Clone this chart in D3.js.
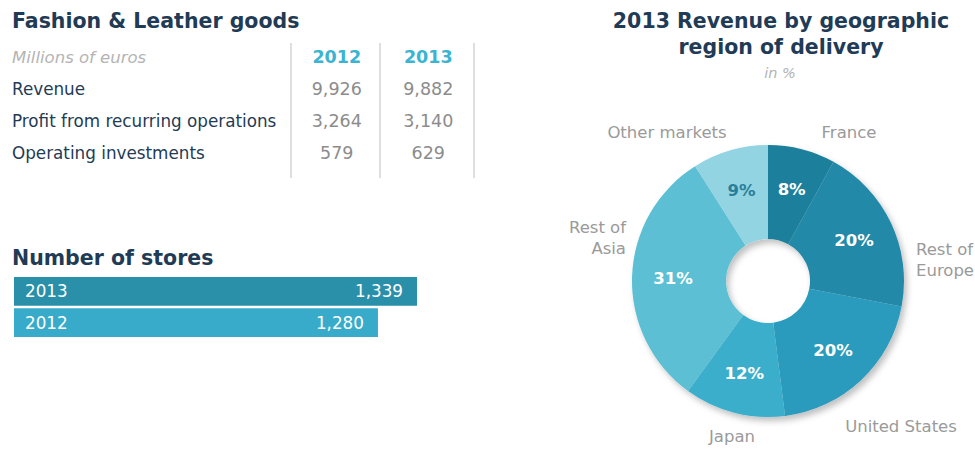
<!DOCTYPE html>
<html><head><meta charset="utf-8">
<script src="https://cdn.jsdelivr.net/npm/d3@7"></script>
<style>body{margin:0;background:#fff}svg{display:block}text{font-family:"DejaVu Sans",Verdana,sans-serif}</style>
</head><body>
<svg id="c" width="975" height="462"></svg>
<script>
// ---- data ----
const tableYears = ["2012", "2013"];
const tableRows = ["Revenue", "Profit from recurring operations", "Operating investments"];
const tableValues2012 = [9926, 3264, 579];
const tableValues2013 = [9882, 3140, 629];
const storeYears = ["2013", "2012"];
const storeCounts = [1339, 1280];
const regions = ["France", "Rest of Europe", "United States", "Japan", "Rest of Asia", "Other markets"];
const regionShares = [8, 20, 20, 12, 31, 9];

const svg = d3.select("#c");
const navy = "#1f3b56";
const fmt = d3.format(",");
const titleSize = 20.5;

// ---- left: table ----
svg.append("text").attr("x", 12).attr("y", 28).attr("font-size", titleSize).attr("font-weight", "bold")
  .attr("fill", navy).text("Fashion & Leather goods");

const rowY = d3.scalePoint().domain(["hdr", ...tableRows]).range([63, 159]);
const colX = d3.scaleBand().domain(tableYears).range([291, 474]);

svg.append("text").attr("x", 12).attr("y", rowY("hdr")).attr("font-size", 16.5).attr("font-style", "italic")
  .attr("fill", "#b4b4b4").text("Millions of euros");

[291, 380, 474].forEach(x => svg.append("line").attr("x1", x).attr("x2", x).attr("y1", 43).attr("y2", 178)
  .attr("stroke", "#d4d4d4").attr("stroke-width", 1.5));

tableYears.forEach(y => svg.append("text").attr("x", colX(y) + colX.bandwidth() / 2).attr("y", rowY("hdr"))
  .attr("text-anchor", "middle").attr("font-size", 17.5).attr("font-weight", "bold").attr("fill", "#3ab4d0").text(y));

tableRows.forEach((r, i) => {
  svg.append("text").attr("x", 12).attr("y", rowY(r)).attr("font-size", 16.8).attr("fill", navy).text(r);
  [tableValues2012[i], tableValues2013[i]].forEach((v, j) => {
    svg.append("text").attr("x", colX(tableYears[j]) + colX.bandwidth() / 2).attr("y", rowY(r))
      .attr("text-anchor", "middle").attr("font-size", 17.5).attr("fill", "#8c8c8c").text(fmt(v));
  });
});

// ---- left: number of stores ----
svg.append("text").attr("x", 12).attr("y", 265).attr("font-size", titleSize).attr("font-weight", "bold")
  .attr("fill", navy).text("Number of stores");

const bx = d3.scaleLinear().domain([730, 1339]).range([0, 403]);
const by = d3.scaleBand().domain(storeYears).range([277, 337]).paddingInner(0.08);
const barColors = { "2013": "#2a8fa9", "2012": "#38abca" };
storeYears.forEach((y, i) => {
  const g = svg.append("g").attr("transform", `translate(14,${by(y)})`);
  g.append("rect").attr("width", bx(storeCounts[i])).attr("height", by.bandwidth()).attr("fill", barColors[y]);
  g.append("text").attr("x", 11).attr("y", by.bandwidth() / 2 + 6).attr("font-size", 16.8).attr("fill", "#fff").text(y);
  g.append("text").attr("x", bx(storeCounts[i]) - 14).attr("y", by.bandwidth() / 2 + 6).attr("text-anchor", "end")
    .attr("font-size", 16.8).attr("fill", "#fff").text(fmt(storeCounts[i]));
});

// ---- right: donut ----
const cx = 768, cy = 281;
svg.append("text").attr("x", 781).attr("y", 28).attr("text-anchor", "middle").attr("font-size", titleSize)
  .attr("font-weight", "bold").attr("fill", navy).text("2013 Revenue by geographic");
svg.append("text").attr("x", 781).attr("y", 54).attr("text-anchor", "middle").attr("font-size", titleSize)
  .attr("font-weight", "bold").attr("fill", navy).text("region of delivery");
svg.append("text").attr("x", 780).attr("y", 78).attr("text-anchor", "middle").attr("font-size", 14.5)
  .attr("font-style", "italic").attr("fill", "#b4b4b4").text("in %");

const defs = svg.append("defs");
const f = defs.append("filter").attr("id", "sh").attr("x", "-20%").attr("y", "-20%").attr("width", "140%").attr("height", "140%");
f.append("feDropShadow").attr("dx", 3).attr("dy", 4).attr("stdDeviation", 3).attr("flood-color", "#000").attr("flood-opacity", 0.25);

const sliceColors = d3.scaleOrdinal().domain(regions)
  .range(["#1e7f9b", "#2389a9", "#2a9bbd", "#3aaecb", "#5bbfd4", "#93d4e3"]);
const pie = d3.pie().sort(null).value(d => d.v);
const data = pie(regions.map((r, i) => ({ r, v: regionShares[i] })));
const arc = d3.arc().innerRadius(42).outerRadius(136);
const lab = d3.arc().innerRadius(95).outerRadius(95);
const pg = svg.append("g").attr("transform", `translate(${cx},${cy})`);
pg.append("g").attr("filter", "url(#sh)").selectAll("path").data(data).join("path")
  .attr("d", arc).attr("fill", d => sliceColors(d.data.r));
pg.selectAll("text.pct").data(data).join("text").attr("class", "pct")
  .attr("transform", d => `translate(${lab.centroid(d)})`).attr("dy", "0.35em").attr("text-anchor", "middle")
  .attr("font-size", 16.5).attr("font-weight", "bold").attr("fill", d => d.data.r === "Other markets" ? "#2a7f98" : "#fff")
  .text(d => d.data.v + "%");

// outside labels
const outer = {
  "France": { x: 849, y: 138, a: "middle", lines: ["France"] },
  "Other markets": { x: 667, y: 138, a: "middle", lines: ["Other markets"] },
  "Rest of Europe": { x: 916, y: 255, a: "start", lines: ["Rest of", "Europe"] },
  "Rest of Asia": { x: 626, y: 233, a: "end", lines: ["Rest of", "Asia"] },
  "United States": { x: 901, y: 432, a: "middle", lines: ["United States"] },
  "Japan": { x: 732, y: 442, a: "middle", lines: ["Japan"] }
};
regions.forEach(r => {
  const o = outer[r];
  const t = svg.append("text").attr("x", o.x).attr("y", o.y).attr("text-anchor", o.a).attr("font-size", 16.5).attr("fill", "#9a9a9a");
  o.lines.forEach((l, i) => t.append("tspan").attr("x", o.x).attr("dy", i ? 21 : 0).text(l));
});
</script>
</body></html>
